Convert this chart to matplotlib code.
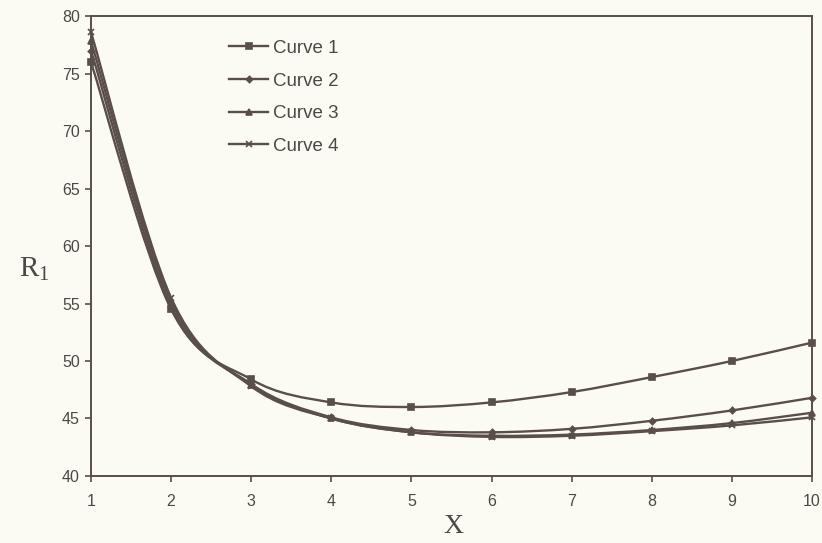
import matplotlib
matplotlib.use("Agg")
import matplotlib.pyplot as plt
import numpy as np
from matplotlib.path import Path
from matplotlib.patches import PathPatch
from matplotlib.lines import Line2D

x = [1, 2, 3, 4, 5, 6, 7, 8, 9, 10]
curve1 = [76.0, 54.5, 48.4, 46.4, 46.0, 46.4, 47.3, 48.6, 50.0, 51.6]
curve2 = [77.0, 54.8, 48.0, 45.1, 44.0, 43.8, 44.1, 44.8, 45.7, 46.8]
curve3 = [77.8, 55.2, 47.9, 45.0, 43.8, 43.5, 43.6, 44.0, 44.6, 45.5]
curve4 = [78.6, 55.5, 47.8, 45.0, 43.8, 43.4, 43.5, 43.9, 44.4, 45.1]
labels = ["Curve 1", "Curve 2", "Curve 3", "Curve 4"]
markers = ["s", "D", "^", "x"]
msizes = [4.5, 3.2, 4.5, 4.5]

col = "#5a4f48"
bg = "#fbfbf3"
txtcol = "#4a4a44"

tick_font = ["Liberation Sans Narrow", "Liberation Sans", "DejaVu Sans"]
legend_font = ["Liberation Sans", "DejaVu Sans"]
serif_font = ["Liberation Serif", "DejaVu Serif"]

fig = plt.figure(figsize=(8.22, 5.43), dpi=100, facecolor=bg)
ax = fig.add_axes([0.1107, 0.1234, 0.8771, 0.8471])
ax.set_facecolor(bg)


def smooth_path(xs, ys):
    pts = np.column_stack([xs, ys]).astype(float)
    n = len(pts)
    verts = [pts[0]]
    codes = [Path.MOVETO]
    for i in range(n - 1):
        p0 = pts[i - 1] if i > 0 else pts[i]
        p1 = pts[i]
        p2 = pts[i + 1]
        p3 = pts[i + 2] if i + 2 < n else pts[i + 1]
        c1 = p1 + (p2 - p0) / 6.0
        c2 = p2 - (p3 - p1) / 6.0
        verts += [c1, c2, p2]
        codes += [Path.CURVE4] * 3
    return Path(verts, codes)


handles = []
for ys, lab, m, ms in zip([curve1, curve2, curve3, curve4], labels, markers, msizes):
    patch = PathPatch(smooth_path(x, ys), facecolor="none", edgecolor=col, lw=1.7,
                      transform=ax.transData)
    ax.add_patch(patch)
    ax.plot(x, ys, ls="none", marker=m, ms=ms, color=col, mec=col, mew=1.2, clip_on=False)
    handles.append(Line2D([], [], color=col, lw=1.7, marker=m, ms=ms, mec=col, mew=1.2))

ax.set_xlim(1, 10)
ax.set_ylim(40, 80)
ax.set_xticks(range(1, 11))
ax.set_yticks(range(40, 81, 5))
for s in ax.spines.values():
    s.set_color(col)
    s.set_linewidth(1.4)
ax.tick_params(axis="both", direction="out", length=4, width=1.2, color=col,
               labelcolor=txtcol, labelsize=11.5)
for lbl in ax.get_xticklabels() + ax.get_yticklabels():
    lbl.set_family(tick_font)
ax.tick_params(axis="x", pad=9)
ax.tick_params(axis="y", pad=4)

ax.set_xlabel("X", family=serif_font, fontsize=20, color=txtcol, va="center")
ax.xaxis.set_label_coords(0.5025, -0.11)
ax.set_ylabel("R$_{\\mathregular{1}}$", family=serif_font, fontsize=21, color=txtcol,
              rotation=0, va="center", ha="center")
ax.yaxis.set_label_coords(-0.078, 0.45)

leg = ax.legend(handles, labels, loc="upper left", bbox_to_anchor=(0.168, 0.985),
                frameon=False, prop={"family": legend_font, "size": 13.5},
                handlelength=2.1, handletextpad=0.25, labelspacing=0.83, labelcolor=txtcol)

fig.savefig("out.png", dpi=100, facecolor=bg)
